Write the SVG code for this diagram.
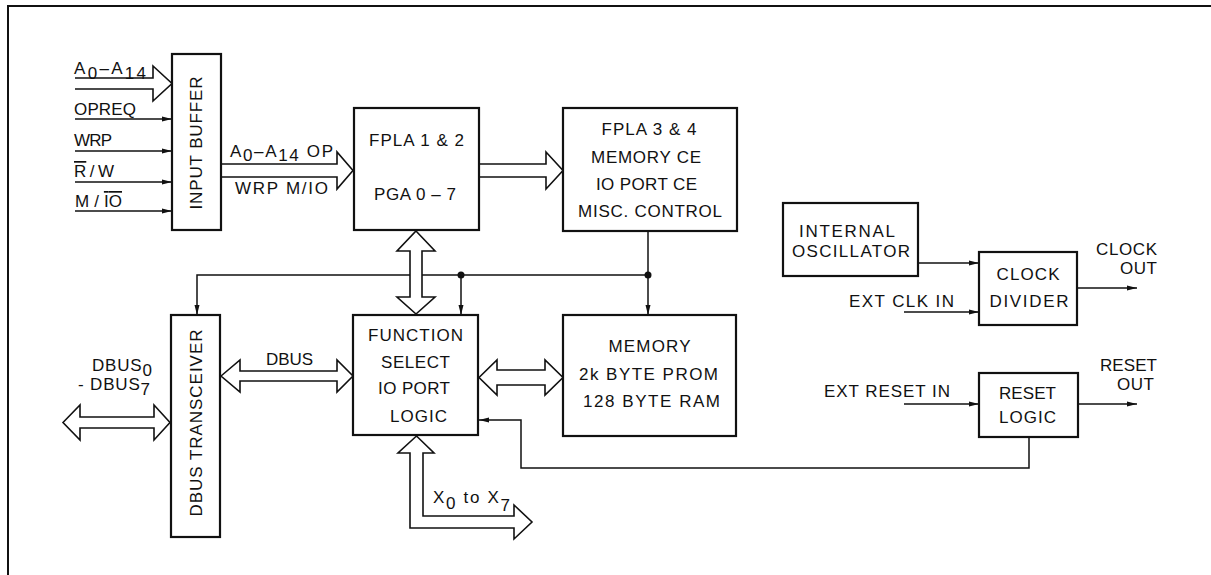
<svg xmlns="http://www.w3.org/2000/svg" width="1211" height="575" viewBox="0 0 1211 575">
<style>
.box{fill:#fff;stroke:#111;stroke-width:2.2}
.bus{fill:#fff;stroke:#111;stroke-width:1.6;stroke-linejoin:miter}
.sig{fill:none;stroke:#111;stroke-width:1.5}
.t{font-family:"Liberation Sans",Arial,sans-serif;font-size:17px;fill:#111}
.m{text-anchor:middle}
.e{text-anchor:end}
.ov{text-decoration:overline}
</style>
<defs>
<marker id="ah" markerUnits="userSpaceOnUse" markerWidth="10" markerHeight="6" refX="10" refY="3" orient="auto">
<path d="M0,0.5 L10,3 L0,5.5 Z" fill="#111"/>
</marker>
</defs>
<rect width="1211" height="575" fill="#fff"/>
<g id="frame"><path d="M8,575 L8,6 L1211,6" fill="none" stroke="#111" stroke-width="2"/></g>

<g id="connectors">
<path class="bus" d="M75,78 L153,78 L153,66 L172,83.5 L153,101 L153,89 L75,89"/>
<line class="sig" x1="75" y1="119" x2="172" y2="119" marker-end="url(#ah)"/>
<line class="sig" x1="75" y1="151" x2="172" y2="151" marker-end="url(#ah)"/>
<line class="sig" x1="75" y1="182" x2="172" y2="182" marker-end="url(#ah)"/>
<line class="sig" x1="75" y1="211" x2="172" y2="211" marker-end="url(#ah)"/>
<path class="bus" d="M221,164 L337,164 L337,152 L353,170.5 L337,189 L337,177 L221,177"/>
<path class="bus" d="M479,164 L546,164 L546,152 L563,170.5 L546,189 L546,177 L479,177"/>
<path class="sig" d="M648,231 L648,315" marker-end="url(#ah)"/>
<path class="sig" d="M648,275 L197,275 L197,315" marker-end="url(#ah)"/>
<path class="sig" d="M461,275 L461,315" marker-end="url(#ah)"/>
<circle cx="461" cy="275" r="3.5" fill="#111"/>
<circle cx="648" cy="275" r="3.5" fill="#111"/>
<path class="bus" d="M416,231 L435,251 L422,251 L422,297 L435,297 L416,314 L397,297 L410,297 L410,251 L397,251 Z"/>
<path class="bus" d="M221,376 L240,360 L240,371 L337,371 L337,360 L353,376 L337,392 L337,381 L240,381 L240,392 Z"/>
<path class="bus" d="M63,422.5 L80,405 L80,417 L154,417 L154,405 L170,422.5 L154,440 L154,428 L80,428 L80,440 Z"/>
<path class="bus" d="M479,377.5 L497,360 L497,370 L545,370 L545,360 L563,377.5 L545,395 L545,385 L497,385 L497,395 Z"/>
<path class="bus" d="M416.5,436 L434,453 L423,453 L423,516 L514,516 L514,505 L532,522 L514,539 L514,528 L410,528 L410,453 L398,453 Z"/>
<line class="sig" x1="918" y1="263" x2="979" y2="263" marker-end="url(#ah)"/>
<line class="sig" x1="904" y1="312" x2="979" y2="312" marker-end="url(#ah)"/>
<line class="sig" x1="1077" y1="288" x2="1137" y2="288" marker-end="url(#ah)"/>
<line class="sig" x1="904" y1="404" x2="979" y2="404" marker-end="url(#ah)"/>
<line class="sig" x1="1078" y1="404" x2="1137" y2="404" marker-end="url(#ah)"/>
<path class="sig" d="M1029,437 L1029,468 L521,468 L521,420 L479,420" marker-end="url(#ah)"/>
</g>

<g id="labels">
<text class="t" x="74" y="74" textLength="72">A<tspan dy="5">0</tspan><tspan dy="-5">–A</tspan><tspan dy="5">14</tspan></text>
<text class="t" x="74" y="115" textLength="62">OPREQ</text>
<text class="t" x="74" y="146" textLength="38">WRP</text>
<text class="t" x="74" y="177" textLength="40"><tspan class="ov">R</tspan> / W</text>
<text class="t" x="75" y="207" textLength="47">M / <tspan class="ov">IO</tspan></text>
<text class="t" x="230" y="157" textLength="103">A<tspan dy="4">0</tspan><tspan dy="-4">–A</tspan><tspan dy="4">14</tspan><tspan dy="-4"> OP</tspan></text>
<text class="t" x="235" y="194" textLength="93">WRP  M/IO</text>
<text class="t" x="92" y="371" textLength="60">DBUS<tspan dy="5">0</tspan></text>
<text class="t" x="78" y="390" textLength="72">- DBUS<tspan dy="5">7</tspan></text>
<text class="t m" x="289.5" y="365" textLength="47">DBUS</text>
<text class="t" x="433" y="503" textLength="77">X<tspan dy="6">0</tspan><tspan dy="-6"> to X</tspan><tspan dy="8">7</tspan></text>
<text class="t" x="849" y="307" textLength="105">EXT CLK IN</text>
<text class="t e" x="1157" y="255" textLength="61">CLOCK</text>
<text class="t e" x="1157" y="274" textLength="37">OUT</text>
<text class="t" x="824" y="397" textLength="126">EXT RESET IN</text>
<text class="t e" x="1157" y="371" textLength="57">RESET</text>
<text class="t e" x="1154" y="390" textLength="37">OUT</text>
</g>

<g id="input-buffer">
<rect class="box" x="172" y="54" width="49" height="176"/>
<text class="t m" transform="translate(202,143) rotate(-90)" textLength="133">INPUT BUFFER</text>
</g>
<g id="fpla12">
<rect class="box" x="354" y="108" width="125" height="122"/>
<text class="t m" x="416.5" y="146" textLength="95">FPLA 1 &amp; 2</text>
<text class="t m" x="415" y="200" textLength="82">PGA 0 – 7</text>
</g>
<g id="fpla34">
<rect class="box" x="563" y="108" width="174" height="123"/>
<text class="t m" x="649" y="135" textLength="95">FPLA 3 &amp; 4</text>
<text class="t m" x="646" y="163" textLength="110">MEMORY CE</text>
<text class="t m" x="646.5" y="190" textLength="101">IO PORT CE</text>
<text class="t m" x="650" y="217" textLength="144">MISC. CONTROL</text>
</g>
<g id="dbus-transceiver">
<rect class="box" x="171" y="315" width="49" height="222"/>
<text class="t m" transform="translate(202,423) rotate(-90)" textLength="187">DBUS TRANSCEIVER</text>
</g>
<g id="function-select">
<rect class="box" x="353" y="315" width="125" height="120"/>
<text class="t m" x="415.5" y="341" textLength="95">FUNCTION</text>
<text class="t m" x="415.5" y="368" textLength="69">SELECT</text>
<text class="t m" x="414" y="394" textLength="72">IO PORT</text>
<text class="t m" x="418.5" y="422" textLength="57">LOGIC</text>
</g>
<g id="memory">
<rect class="box" x="563" y="315" width="173" height="121"/>
<text class="t m" x="649.5" y="352" textLength="82">MEMORY</text>
<text class="t m" x="648.5" y="380" textLength="139">2k BYTE PROM</text>
<text class="t m" x="651.5" y="407" textLength="137">128 BYTE RAM</text>
</g>
<g id="internal-oscillator">
<rect class="box" x="783" y="203" width="135" height="73"/>
<text class="t m" x="847" y="237" textLength="96">INTERNAL</text>
<text class="t m" x="851" y="257" textLength="118">OSCILLATOR</text>
</g>
<g id="clock-divider">
<rect class="box" x="979" y="252" width="98" height="73"/>
<text class="t m" x="1028" y="280" textLength="63">CLOCK</text>
<text class="t m" x="1029" y="307" textLength="79">DIVIDER</text>
</g>
<g id="reset-logic">
<rect class="box" x="979" y="373" width="99" height="64"/>
<text class="t m" x="1027.5" y="399" textLength="57">RESET</text>
<text class="t m" x="1027.5" y="423" textLength="57">LOGIC</text>
</g>
</svg>
